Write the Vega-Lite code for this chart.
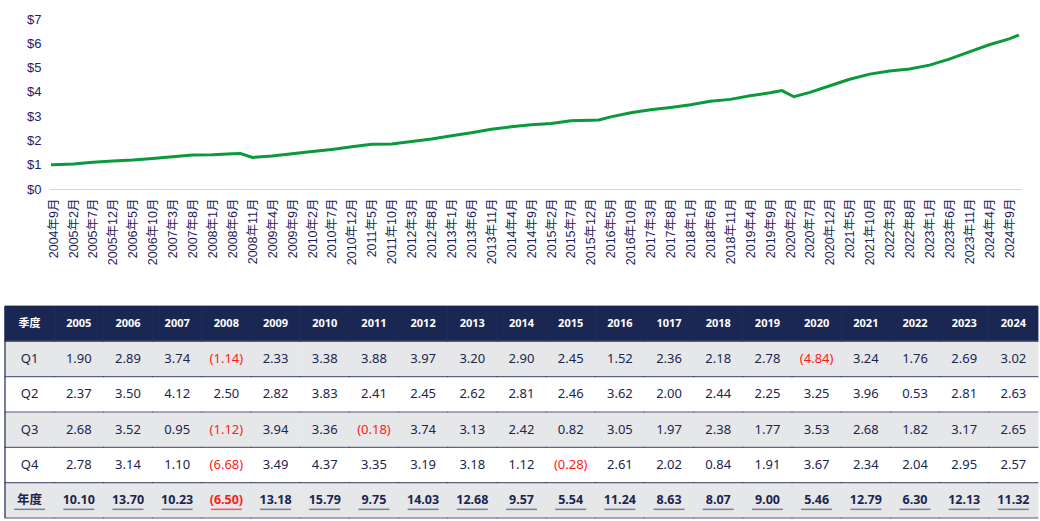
{
  "$schema": "https://vega.github.io/schema/vega-lite/v6.json",
  "padding": {"left": 4, "top": 13, "right": 0, "bottom": 0},
  "spacing": 40,
  "background": "#ffffff",
  "config": {"view": {"stroke": null}},
  "datasets": {
    "price": [
      {"date": "2004-08-15", "v": 1.00},
      {"date": "2004-09-01", "v": 1.00},
      {"date": "2005-02-01", "v": 1.03},
      {"date": "2005-07-01", "v": 1.10},
      {"date": "2005-12-01", "v": 1.15},
      {"date": "2006-05-01", "v": 1.19},
      {"date": "2006-10-01", "v": 1.26},
      {"date": "2007-03-01", "v": 1.33},
      {"date": "2007-08-01", "v": 1.40},
      {"date": "2008-01-01", "v": 1.41},
      {"date": "2008-06-01", "v": 1.45},
      {"date": "2008-08-01", "v": 1.46},
      {"date": "2008-11-01", "v": 1.30},
      {"date": "2009-04-01", "v": 1.36},
      {"date": "2009-09-01", "v": 1.45},
      {"date": "2010-02-01", "v": 1.54},
      {"date": "2010-07-01", "v": 1.63},
      {"date": "2010-12-01", "v": 1.74},
      {"date": "2011-05-01", "v": 1.84},
      {"date": "2011-10-01", "v": 1.85},
      {"date": "2012-03-01", "v": 1.96},
      {"date": "2012-08-01", "v": 2.06},
      {"date": "2013-01-01", "v": 2.19},
      {"date": "2013-06-01", "v": 2.32},
      {"date": "2013-11-01", "v": 2.46},
      {"date": "2014-04-01", "v": 2.56},
      {"date": "2014-09-01", "v": 2.65},
      {"date": "2015-02-01", "v": 2.70},
      {"date": "2015-07-01", "v": 2.81},
      {"date": "2015-12-01", "v": 2.83},
      {"date": "2016-02-01", "v": 2.84},
      {"date": "2016-05-01", "v": 2.97},
      {"date": "2016-10-01", "v": 3.14},
      {"date": "2017-03-01", "v": 3.26},
      {"date": "2017-08-01", "v": 3.36},
      {"date": "2018-01-01", "v": 3.47},
      {"date": "2018-06-01", "v": 3.61},
      {"date": "2018-11-01", "v": 3.69},
      {"date": "2019-04-01", "v": 3.84},
      {"date": "2019-09-01", "v": 3.96},
      {"date": "2019-12-01", "v": 4.05},
      {"date": "2020-03-01", "v": 3.80},
      {"date": "2020-07-01", "v": 3.98},
      {"date": "2020-12-01", "v": 4.25},
      {"date": "2021-05-01", "v": 4.52},
      {"date": "2021-10-01", "v": 4.73},
      {"date": "2022-03-01", "v": 4.86},
      {"date": "2022-08-01", "v": 4.94},
      {"date": "2023-01-01", "v": 5.10},
      {"date": "2023-06-01", "v": 5.35},
      {"date": "2023-11-01", "v": 5.65},
      {"date": "2024-04-01", "v": 5.94},
      {"date": "2024-09-01", "v": 6.18},
      {"date": "2024-11-15", "v": 6.34}
    ],
    "edge": [{"c": "季度"}],
    "cells": [
      {"r": "季度", "c": "季度", "v": "季度"},
      {"r": "季度", "c": "2005", "v": "2005"},
      {"r": "季度", "c": "2006", "v": "2006"},
      {"r": "季度", "c": "2007", "v": "2007"},
      {"r": "季度", "c": "2008", "v": "2008"},
      {"r": "季度", "c": "2009", "v": "2009"},
      {"r": "季度", "c": "2010", "v": "2010"},
      {"r": "季度", "c": "2011", "v": "2011"},
      {"r": "季度", "c": "2012", "v": "2012"},
      {"r": "季度", "c": "2013", "v": "2013"},
      {"r": "季度", "c": "2014", "v": "2014"},
      {"r": "季度", "c": "2015", "v": "2015"},
      {"r": "季度", "c": "2016", "v": "2016"},
      {"r": "季度", "c": "1017", "v": "1017"},
      {"r": "季度", "c": "2018", "v": "2018"},
      {"r": "季度", "c": "2019", "v": "2019"},
      {"r": "季度", "c": "2020", "v": "2020"},
      {"r": "季度", "c": "2021", "v": "2021"},
      {"r": "季度", "c": "2022", "v": "2022"},
      {"r": "季度", "c": "2023", "v": "2023"},
      {"r": "季度", "c": "2024", "v": "2024"},

      {"r": "Q1", "c": "季度", "v": "Q1"},
      {"r": "Q1", "c": "2005", "v": "1.90"},
      {"r": "Q1", "c": "2006", "v": "2.89"},
      {"r": "Q1", "c": "2007", "v": "3.74"},
      {"r": "Q1", "c": "2008", "v": "(1.14)"},
      {"r": "Q1", "c": "2009", "v": "2.33"},
      {"r": "Q1", "c": "2010", "v": "3.38"},
      {"r": "Q1", "c": "2011", "v": "3.88"},
      {"r": "Q1", "c": "2012", "v": "3.97"},
      {"r": "Q1", "c": "2013", "v": "3.20"},
      {"r": "Q1", "c": "2014", "v": "2.90"},
      {"r": "Q1", "c": "2015", "v": "2.45"},
      {"r": "Q1", "c": "2016", "v": "1.52"},
      {"r": "Q1", "c": "1017", "v": "2.36"},
      {"r": "Q1", "c": "2018", "v": "2.18"},
      {"r": "Q1", "c": "2019", "v": "2.78"},
      {"r": "Q1", "c": "2020", "v": "(4.84)"},
      {"r": "Q1", "c": "2021", "v": "3.24"},
      {"r": "Q1", "c": "2022", "v": "1.76"},
      {"r": "Q1", "c": "2023", "v": "2.69"},
      {"r": "Q1", "c": "2024", "v": "3.02"},

      {"r": "Q2", "c": "季度", "v": "Q2"},
      {"r": "Q2", "c": "2005", "v": "2.37"},
      {"r": "Q2", "c": "2006", "v": "3.50"},
      {"r": "Q2", "c": "2007", "v": "4.12"},
      {"r": "Q2", "c": "2008", "v": "2.50"},
      {"r": "Q2", "c": "2009", "v": "2.82"},
      {"r": "Q2", "c": "2010", "v": "3.83"},
      {"r": "Q2", "c": "2011", "v": "2.41"},
      {"r": "Q2", "c": "2012", "v": "2.45"},
      {"r": "Q2", "c": "2013", "v": "2.62"},
      {"r": "Q2", "c": "2014", "v": "2.81"},
      {"r": "Q2", "c": "2015", "v": "2.46"},
      {"r": "Q2", "c": "2016", "v": "3.62"},
      {"r": "Q2", "c": "1017", "v": "2.00"},
      {"r": "Q2", "c": "2018", "v": "2.44"},
      {"r": "Q2", "c": "2019", "v": "2.25"},
      {"r": "Q2", "c": "2020", "v": "3.25"},
      {"r": "Q2", "c": "2021", "v": "3.96"},
      {"r": "Q2", "c": "2022", "v": "0.53"},
      {"r": "Q2", "c": "2023", "v": "2.81"},
      {"r": "Q2", "c": "2024", "v": "2.63"},

      {"r": "Q3", "c": "季度", "v": "Q3"},
      {"r": "Q3", "c": "2005", "v": "2.68"},
      {"r": "Q3", "c": "2006", "v": "3.52"},
      {"r": "Q3", "c": "2007", "v": "0.95"},
      {"r": "Q3", "c": "2008", "v": "(1.12)"},
      {"r": "Q3", "c": "2009", "v": "3.94"},
      {"r": "Q3", "c": "2010", "v": "3.36"},
      {"r": "Q3", "c": "2011", "v": "(0.18)"},
      {"r": "Q3", "c": "2012", "v": "3.74"},
      {"r": "Q3", "c": "2013", "v": "3.13"},
      {"r": "Q3", "c": "2014", "v": "2.42"},
      {"r": "Q3", "c": "2015", "v": "0.82"},
      {"r": "Q3", "c": "2016", "v": "3.05"},
      {"r": "Q3", "c": "1017", "v": "1.97"},
      {"r": "Q3", "c": "2018", "v": "2.38"},
      {"r": "Q3", "c": "2019", "v": "1.77"},
      {"r": "Q3", "c": "2020", "v": "3.53"},
      {"r": "Q3", "c": "2021", "v": "2.68"},
      {"r": "Q3", "c": "2022", "v": "1.82"},
      {"r": "Q3", "c": "2023", "v": "3.17"},
      {"r": "Q3", "c": "2024", "v": "2.65"},

      {"r": "Q4", "c": "季度", "v": "Q4"},
      {"r": "Q4", "c": "2005", "v": "2.78"},
      {"r": "Q4", "c": "2006", "v": "3.14"},
      {"r": "Q4", "c": "2007", "v": "1.10"},
      {"r": "Q4", "c": "2008", "v": "(6.68)"},
      {"r": "Q4", "c": "2009", "v": "3.49"},
      {"r": "Q4", "c": "2010", "v": "4.37"},
      {"r": "Q4", "c": "2011", "v": "3.35"},
      {"r": "Q4", "c": "2012", "v": "3.19"},
      {"r": "Q4", "c": "2013", "v": "3.18"},
      {"r": "Q4", "c": "2014", "v": "1.12"},
      {"r": "Q4", "c": "2015", "v": "(0.28)"},
      {"r": "Q4", "c": "2016", "v": "2.61"},
      {"r": "Q4", "c": "1017", "v": "2.02"},
      {"r": "Q4", "c": "2018", "v": "0.84"},
      {"r": "Q4", "c": "2019", "v": "1.91"},
      {"r": "Q4", "c": "2020", "v": "3.67"},
      {"r": "Q4", "c": "2021", "v": "2.34"},
      {"r": "Q4", "c": "2022", "v": "2.04"},
      {"r": "Q4", "c": "2023", "v": "2.95"},
      {"r": "Q4", "c": "2024", "v": "2.57"},

      {"r": "年度", "c": "季度", "v": "年度"},
      {"r": "年度", "c": "2005", "v": "10.10"},
      {"r": "年度", "c": "2006", "v": "13.70"},
      {"r": "年度", "c": "2007", "v": "10.23"},
      {"r": "年度", "c": "2008", "v": "(6.50)"},
      {"r": "年度", "c": "2009", "v": "13.18"},
      {"r": "年度", "c": "2010", "v": "15.79"},
      {"r": "年度", "c": "2011", "v": "9.75"},
      {"r": "年度", "c": "2012", "v": "14.03"},
      {"r": "年度", "c": "2013", "v": "12.68"},
      {"r": "年度", "c": "2014", "v": "9.57"},
      {"r": "年度", "c": "2015", "v": "5.54"},
      {"r": "年度", "c": "2016", "v": "11.24"},
      {"r": "年度", "c": "1017", "v": "8.63"},
      {"r": "年度", "c": "2018", "v": "8.07"},
      {"r": "年度", "c": "2019", "v": "9.00"},
      {"r": "年度", "c": "2020", "v": "5.46"},
      {"r": "年度", "c": "2021", "v": "12.79"},
      {"r": "年度", "c": "2022", "v": "6.30"},
      {"r": "年度", "c": "2023", "v": "12.13"},
      {"r": "年度", "c": "2024", "v": "11.32"}
    ]
  },
  "vconcat": [
    {
      "width": 972,
      "height": 170,
      "data": {"name": "price"},
      "mark": {"type": "line", "color": "#0a9a3c", "strokeWidth": 3},
      "encoding": {
        "x": {
          "field": "date",
          "type": "temporal",
          "scale": {"type": "utc", "padding": 2},
          "axis": {
            "title": null,
            "values": [
              {"year": 2004, "month": 9, "date": 1, "utc": true},
              {"year": 2005, "month": 2, "date": 1, "utc": true},
              {"year": 2005, "month": 7, "date": 1, "utc": true},
              {"year": 2005, "month": 12, "date": 1, "utc": true},
              {"year": 2006, "month": 5, "date": 1, "utc": true},
              {"year": 2006, "month": 10, "date": 1, "utc": true},
              {"year": 2007, "month": 3, "date": 1, "utc": true},
              {"year": 2007, "month": 8, "date": 1, "utc": true},
              {"year": 2008, "month": 1, "date": 1, "utc": true},
              {"year": 2008, "month": 6, "date": 1, "utc": true},
              {"year": 2008, "month": 11, "date": 1, "utc": true},
              {"year": 2009, "month": 4, "date": 1, "utc": true},
              {"year": 2009, "month": 9, "date": 1, "utc": true},
              {"year": 2010, "month": 2, "date": 1, "utc": true},
              {"year": 2010, "month": 7, "date": 1, "utc": true},
              {"year": 2010, "month": 12, "date": 1, "utc": true},
              {"year": 2011, "month": 5, "date": 1, "utc": true},
              {"year": 2011, "month": 10, "date": 1, "utc": true},
              {"year": 2012, "month": 3, "date": 1, "utc": true},
              {"year": 2012, "month": 8, "date": 1, "utc": true},
              {"year": 2013, "month": 1, "date": 1, "utc": true},
              {"year": 2013, "month": 6, "date": 1, "utc": true},
              {"year": 2013, "month": 11, "date": 1, "utc": true},
              {"year": 2014, "month": 4, "date": 1, "utc": true},
              {"year": 2014, "month": 9, "date": 1, "utc": true},
              {"year": 2015, "month": 2, "date": 1, "utc": true},
              {"year": 2015, "month": 7, "date": 1, "utc": true},
              {"year": 2015, "month": 12, "date": 1, "utc": true},
              {"year": 2016, "month": 5, "date": 1, "utc": true},
              {"year": 2016, "month": 10, "date": 1, "utc": true},
              {"year": 2017, "month": 3, "date": 1, "utc": true},
              {"year": 2017, "month": 8, "date": 1, "utc": true},
              {"year": 2018, "month": 1, "date": 1, "utc": true},
              {"year": 2018, "month": 6, "date": 1, "utc": true},
              {"year": 2018, "month": 11, "date": 1, "utc": true},
              {"year": 2019, "month": 4, "date": 1, "utc": true},
              {"year": 2019, "month": 9, "date": 1, "utc": true},
              {"year": 2020, "month": 2, "date": 1, "utc": true},
              {"year": 2020, "month": 7, "date": 1, "utc": true},
              {"year": 2020, "month": 12, "date": 1, "utc": true},
              {"year": 2021, "month": 5, "date": 1, "utc": true},
              {"year": 2021, "month": 10, "date": 1, "utc": true},
              {"year": 2022, "month": 3, "date": 1, "utc": true},
              {"year": 2022, "month": 8, "date": 1, "utc": true},
              {"year": 2023, "month": 1, "date": 1, "utc": true},
              {"year": 2023, "month": 6, "date": 1, "utc": true},
              {"year": 2023, "month": 11, "date": 1, "utc": true},
              {"year": 2024, "month": 4, "date": 1, "utc": true},
              {"year": 2024, "month": 9, "date": 1, "utc": true}
            ],
            "labelExpr": "utcFormat(datum.value, '%Y年%-m月')",
            "labelAngle": -90,
            "labelOverlap": false,
            "labelFont": "Liberation Sans, Noto Sans CJK SC",
            "labelFontSize": 12.5,
            "labelColor": "#1c1c5a",
            "labelPadding": 9,
            "ticks": false,
            "tickSize": 0,
            "grid": false,
            "domainColor": "#c6d6f3",
            "domainWidth": 1
          }
        },
        "y": {
          "field": "v",
          "type": "quantitative",
          "scale": {"domain": [0, 7], "nice": false, "zero": true},
          "axis": {
            "title": null,
            "values": [0, 1, 2, 3, 4, 5, 6, 7],
            "labelExpr": "'$' + datum.value",
            "labelFont": "Liberation Sans",
            "labelFontSize": 13,
            "labelColor": "#22226a",
            "labelPadding": 8,
            "ticks": false,
            "tickSize": 0,
            "grid": false,
            "domain": false,
            "minExtent": 44,
            "maxExtent": 44
          }
        }
      }
    },
    {
      "width": 1033,
      "height": 212,
      "data": {"name": "cells"},
      "encoding": {
        "x": {
          "field": "c",
          "type": "nominal",
          "sort": null,
          "scale": {
            "domain": ["季度", "2005", "2006", "2007", "2008", "2009", "2010", "2011", "2012", "2013", "2014", "2015", "2016", "1017", "2018", "2019", "2020", "2021", "2022", "2023", "2024"],
            "paddingInner": 0,
            "paddingOuter": 0
          },
          "axis": null
        },
        "y": {
          "field": "r",
          "type": "nominal",
          "sort": null,
          "scale": {
            "domain": ["季度", "Q1", "Q2", "Q3", "Q4", "年度"],
            "paddingInner": 0,
            "paddingOuter": 0
          },
          "axis": null
        }
      },
      "layer": [
        {
          "mark": {"type": "rect", "xOffset": -44, "strokeWidth": 0.8},
          "encoding": {
            "fill": {
              "condition": [
                {"test": "datum.r === '季度'", "value": "#1b2753"},
                {"test": "datum.r === 'Q2' || datum.r === 'Q4'", "value": "#ffffff"}
              ],
              "value": "#e6e7e9"
            },
            "stroke": {
              "condition": [
                {"test": "datum.r === '季度'", "value": "#1b2753"},
                {"test": "datum.r === 'Q2' || datum.r === 'Q4'", "value": "#ffffff"}
              ],
              "value": "#e6e7e9"
            }
          }
        },
        {
          "mark": {"type": "tick", "orient": "horizontal", "size": 50, "thickness": 1.2, "color": "#1b2753", "yOffset": 17.67, "xOffset": -44}
        },
        {
          "data": {"name": "edge"},
          "mark": {"type": "rule", "color": "#1b2753", "strokeWidth": 1.2, "xOffset": -44},
          "encoding": {
            "y": null,
            "x": {"field": "c", "type": "nominal", "bandPosition": 0}
          }
        },
        {
          "transform": [{"filter": "datum.r === '季度'"}],
          "mark": {"type": "text", "font": "Noto Sans, Noto Sans CJK SC", "fontWeight": "bold", "fontSize": 11, "color": "#ffffff", "xOffset": -44},
          "encoding": {"text": {"field": "v"}}
        },
        {
          "transform": [{"filter": "datum.r !== '季度' && datum.r !== '年度'"}],
          "mark": {"type": "text", "font": "Noto Sans, Noto Sans CJK SC", "fontSize": 13, "xOffset": -44},
          "encoding": {
            "text": {"field": "v"},
            "color": {
              "condition": {"test": "indexof(datum.v, '(') >= 0", "value": "#ff1a1a"},
              "value": "#1b2550"
            }
          }
        },
        {
          "transform": [{"filter": "datum.r === '年度'"}],
          "mark": {"type": "text", "font": "Noto Sans, Noto Sans CJK SC", "fontWeight": "bold", "fontSize": 12.5, "xOffset": -44},
          "encoding": {
            "text": {"field": "v"},
            "color": {
              "condition": {"test": "indexof(datum.v, '(') >= 0", "value": "#ff1a1a"},
              "value": "#1b2550"
            }
          }
        },
        {
          "transform": [{"filter": "datum.r === '年度'"}],
          "mark": {"type": "tick", "orient": "horizontal", "size": 31, "thickness": 1.5, "yOffset": 9, "xOffset": -44},
          "encoding": {
            "color": {
              "condition": {"test": "indexof(datum.v, '(') >= 0", "value": "#ff1a1a"},
              "value": "#4d5373"
            }
          }
        }
      ]
    }
  ]
}
